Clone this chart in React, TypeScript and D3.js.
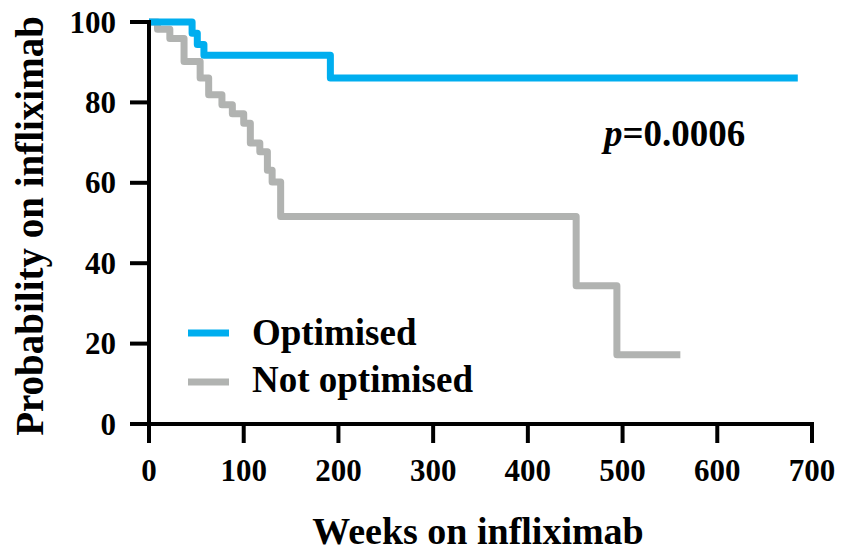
import React from "react";
import * as d3 from "d3";

// Kaplan–Meier survival steps: [week, probability %]
const optimisedSteps: [number, number][] = [
  [0, 100],
  [45.5, 97.2],
  [51, 94.4],
  [58, 91.7],
  [191.5, 86.1],
  [685, 86.1],
];

const notOptimisedSteps: [number, number][] = [
  [0, 100],
  [9, 98.2],
  [22, 95.9],
  [37, 90.2],
  [54, 86.1],
  [63, 81.9],
  [77, 79.4],
  [88, 77.2],
  [100, 74.8],
  [107, 69.9],
  [117, 67.7],
  [125, 63.1],
  [130, 60.2],
  [139, 51.6],
  [451, 34.4],
  [494, 17.2],
  [561, 17.2],
];

const xTicks = [0, 100, 200, 300, 400, 500, 600, 700];
const yTicks = [0, 20, 40, 60, 80, 100];

const seriesNames = ["Optimised", "Not optimised"];
const seriesColors = ["#00AEEF", "#B1B3B1"];
const pValueLabel = "0.0006";

const W = 841;
const H = 549;
const FONT = "'Liberation Serif', 'Times New Roman', serif";

export default function App() {
  const x = d3.scaleLinear().domain([0, 700]).range([149, 812]);
  const y = d3.scaleLinear().domain([0, 100]).range([424, 22]);

  const line = d3
    .line<[number, number]>()
    .x((d) => x(d[0]))
    .y((d) => y(d[1]))
    .curve(d3.curveStepAfter);

  return (
    <svg
      width={W}
      height={H}
      style={{ position: "absolute", left: 0, top: 0, background: "#fff" }}
      fontFamily={FONT}
      fontWeight="bold"
    >
      {/* survival curves */}
      <path
        d={line(notOptimisedSteps) ?? ""}
        fill="none"
        stroke={seriesColors[1]}
        strokeWidth={7}
        strokeLinejoin="round"
      />
      <path
        d={line(optimisedSteps) ?? ""}
        fill="none"
        stroke={seriesColors[0]}
        strokeWidth={7}
        strokeLinejoin="round"
      />

      {/* y axis */}
      <line x1={x(0)} x2={x(0)} y1={y(100) - 2} y2={y(0) + 2} stroke="#000" strokeWidth={4} />
      {yTicks.map((t) => (
        <g key={`y${t}`}>
          <line x1={x(0) - 19} x2={x(0)} y1={y(t)} y2={y(t)} stroke="#000" strokeWidth={4} />
          <text
            x={116}
            y={y(t)}
            textAnchor="end"
            dominantBaseline="central"
            fontSize={31}
          >
            {t}
          </text>
        </g>
      ))}

      {/* x axis */}
      <line x1={x(0) - 2} x2={x(700) + 2} y1={y(0)} y2={y(0)} stroke="#000" strokeWidth={4} />
      {xTicks.map((t) => (
        <g key={`x${t}`}>
          <line x1={x(t)} x2={x(t)} y1={y(0)} y2={y(0) + 19} stroke="#000" strokeWidth={4} />
          <text x={x(t)} y={481} textAnchor="middle" fontSize={31}>
            {t}
          </text>
        </g>
      ))}

      {/* axis titles */}
      <text x={478} y={544} textAnchor="middle" fontSize={38}>
        Weeks on infliximab
      </text>
      <text
        transform={`translate(43, ${226}) rotate(-90)`}
        textAnchor="middle"
        fontSize={39}
      >
        Probability on infliximab
      </text>

      {/* p-value */}
      <text x={604} y={146} fontSize={37}>
        <tspan fontStyle="italic">p</tspan>={pValueLabel}
      </text>

      {/* legend */}
      {seriesNames.map((name, i) => (
        <g key={name}>
          <line
            x1={188}
            x2={229}
            y1={333 + i * 49}
            y2={333 + i * 49}
            stroke={seriesColors[i]}
            strokeWidth={7}
          />
          <text x={252} y={345 + i * 47} fontSize={37}>
            {name}
          </text>
        </g>
      ))}
    </svg>
  );
}
